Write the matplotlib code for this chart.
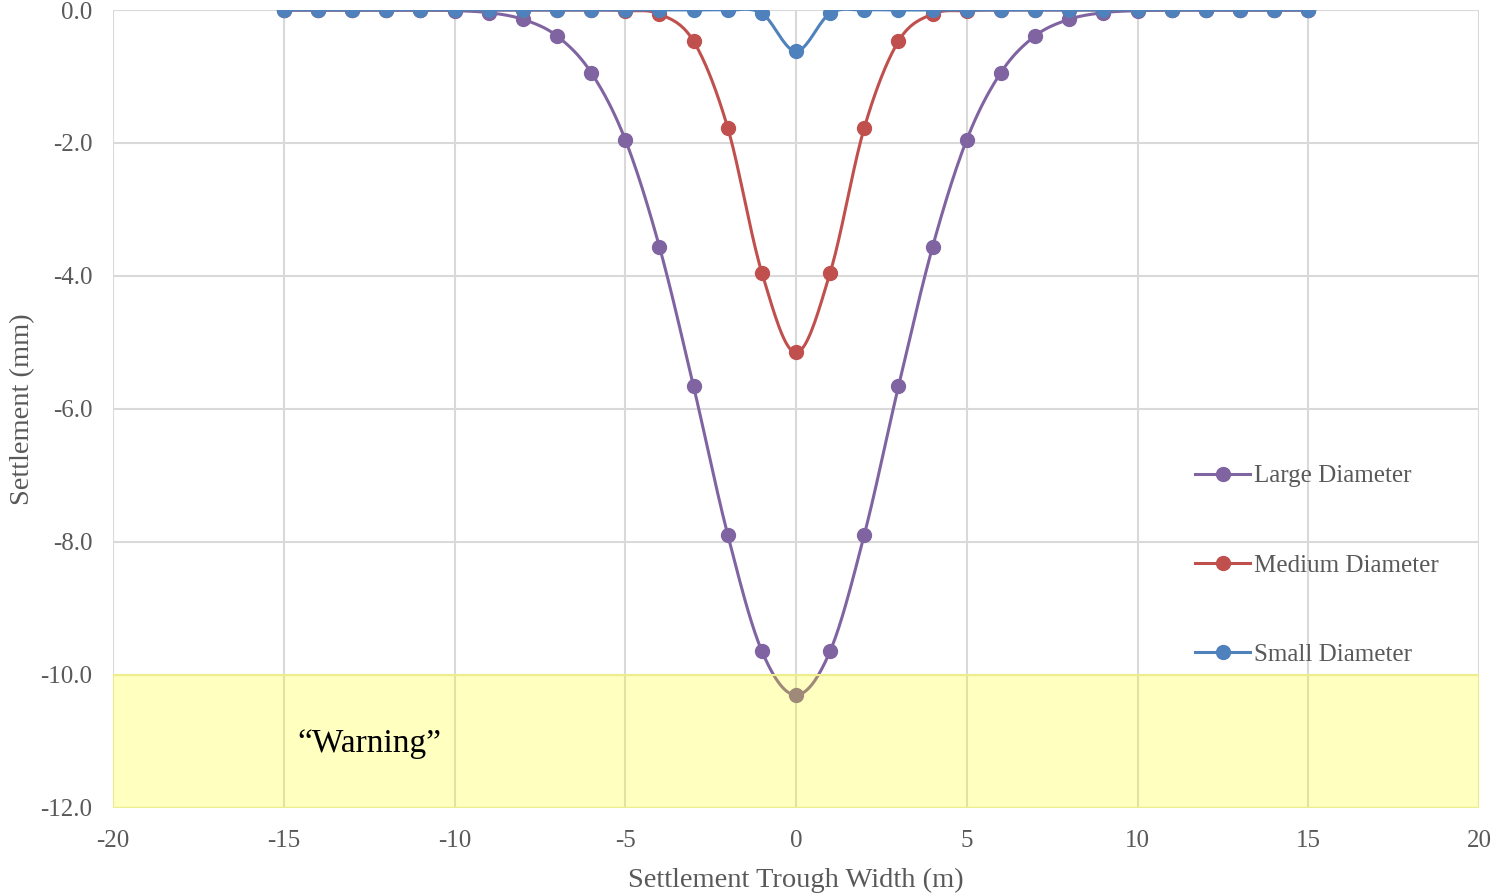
import numpy as np
import matplotlib.pyplot as plt
from matplotlib.patches import Rectangle

# offset from tunnel centreline (m)
x = list(range(-15, 16))

# settlement values (mm), symmetric about the centreline
large_half = [-10.30, -9.64, -7.89, -5.66, -3.56, -1.95, -0.94, -0.39, -0.14, -0.04,
              -0.01, 0.0, 0.0, 0.0, 0.0, 0.0]
medium_half = [-5.15, -3.95, -1.77, -0.47, -0.06, -0.01, 0.0, 0.0, 0.0, 0.0,
               0.0, 0.0, 0.0, 0.0, 0.0, 0.0]
small_half = [-0.62, -0.05, 0.0, 0.0, 0.0, 0.0, 0.0, 0.0, 0.0, 0.0,
              0.0, 0.0, 0.0, 0.0, 0.0, 0.0]

large = large_half[:0:-1] + large_half
medium = medium_half[:0:-1] + medium_half
small = small_half[:0:-1] + small_half

series = [
    ("Large Diameter", large, "#8064A2"),
    ("Medium Diameter", medium, "#C0504D"),
    ("Small Diameter", small, "#4F81BD"),
]

warning_level = -10.0


def smooth(xs, ys, n=20):
    # Catmull-Rom curve through the points (like a spreadsheet "smoothed line")
    xs = np.asarray(xs, float)
    ys = np.asarray(ys, float)
    px = np.concatenate([[xs[0]], xs, [xs[-1]]])
    py = np.concatenate([[ys[0]], ys, [ys[-1]]])
    out_x, out_y = [], []
    t = np.linspace(0, 1, n, endpoint=False)
    for i in range(1, len(px) - 2):
        for p, out in ((px, out_x), (py, out_y)):
            p0, p1, p2, p3 = p[i - 1], p[i], p[i + 1], p[i + 2]
            m1 = (p2 - p0) / 2
            m2 = (p3 - p1) / 2
            h00 = 2 * t**3 - 3 * t**2 + 1
            h10 = t**3 - 2 * t**2 + t
            h01 = -2 * t**3 + 3 * t**2
            h11 = t**3 - t**2
            out.extend(h00 * p1 + h10 * m1 + h01 * p2 + h11 * m2)
    out_x.append(xs[-1])
    out_y.append(ys[-1])
    return np.array(out_x), np.array(out_y)


plt.rcParams['font.family'] = ['Liberation Serif', 'DejaVu Serif']
plt.rcParams['axes.unicode_minus'] = False

fig = plt.figure(figsize=(14.95, 8.93), dpi=100)
ax = fig.add_axes([0.0756, 0.0952, 0.9137, 0.8936])

for label, ys, color in series:
    sx, sy = smooth(x, ys)
    ax.plot(sx, sy, color=color, lw=2.2, zorder=3)
    ax.plot(x, ys, 'o', color=color, ms=10, zorder=4)
    ax.plot([], [], '-o', color=color, lw=2.2, ms=10, label=label)

# warning zone below the settlement limit
ax.add_patch(Rectangle((-20, -12), 40, 12 + warning_level, facecolor=(1, 1, 0, 0.25),
                       edgecolor=(0.93, 0.93, 0.55, 1), lw=1.5, zorder=5))
ax.text(-12.5, -11.03, "\u201cWarning\u201d", fontsize=24, color='black',
        ha='center', va='center', zorder=6)

ax.set_xlim(-20, 20)
ax.set_ylim(-12, 0)
ax.set_xticks(range(-20, 21, 5))
ax.set_yticks(np.arange(-12, 0.1, 2))
ax.set_yticklabels([f"{v:.1f}" for v in np.arange(-12, 0.1, 2)])
ax.grid(True, color='#D9D9D9', lw=1.5, zorder=0)
ax.set_axisbelow(True)
for s in ax.spines.values():
    s.set_visible(False)
ax.tick_params(length=0, labelsize=18, labelcolor='#595959')
ax.tick_params(axis='x', pad=16)
ax.tick_params(axis='y', pad=15)

ax.set_xlabel("Settlement Trough Width (m)", fontsize=20.5, color='#595959', labelpad=11)
ax.set_ylabel("Settlement (mm)", fontsize=20.5, color='#595959', labelpad=4)

ax.legend(loc='center left', bbox_to_anchor=(0.7848, 0.304), frameon=False,
          fontsize=18, labelcolor='#595959', labelspacing=2.67,
          handlelength=2.2, handletextpad=0.15, borderaxespad=0)

fig.savefig("out.png", dpi=100)
